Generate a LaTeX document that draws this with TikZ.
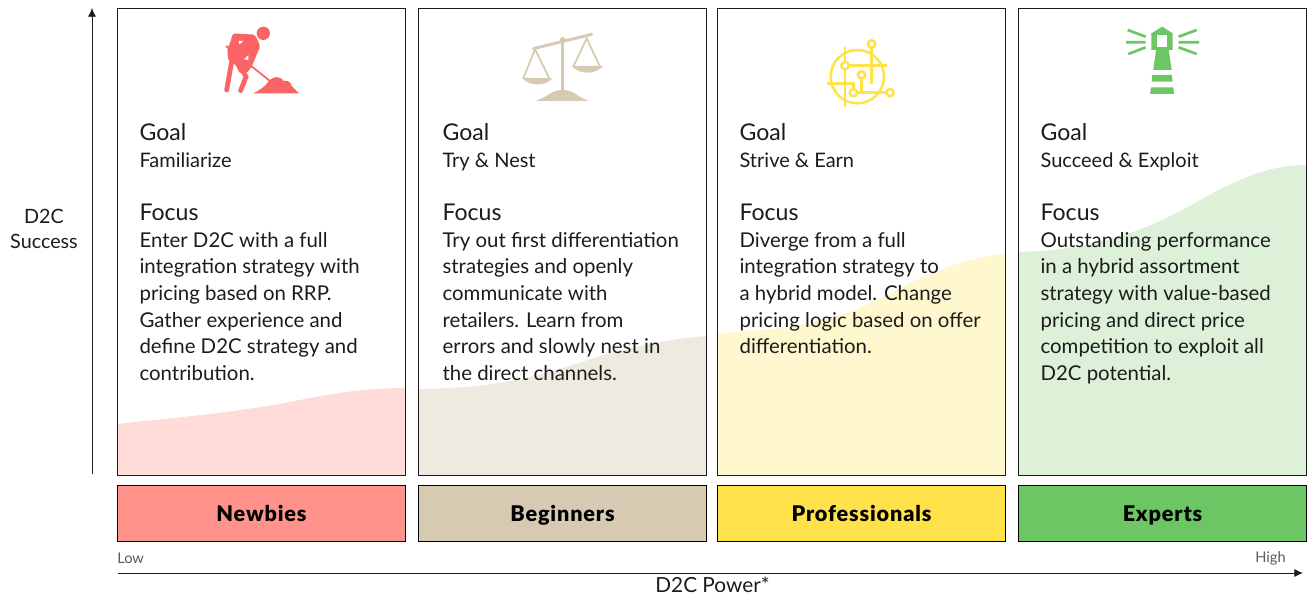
\documentclass[tikz,border=0pt]{standalone}
\usepackage{fontspec}
\setmainfont{Lato}[BoldFont = Lato Black]
\usepackage{tikz}
\usetikzlibrary{arrows.meta}

\definecolor{newbiesicon}{HTML}{FA6464}
\definecolor{newbiesbox}{HTML}{FF928B}
\definecolor{newbiespale}{HTML}{FFDCD8}
\definecolor{beginnersbox}{HTML}{D6CAB3}
\definecolor{beginnerspale}{HTML}{EEEAE0}
\definecolor{prosbox}{HTML}{FFE14A}
\definecolor{prospale}{HTML}{FFF8CE}
\definecolor{expertsbox}{HTML}{6CC664}
\definecolor{expertspale}{HTML}{DDF1D9}
\definecolor{inkdark}{HTML}{1C1C1C}

\tikzset{
	panel/.style = {draw = inkdark, line width = 0.75pt},
	tier/.style = {draw = black, line width = 0.75pt, anchor = north west, minimum width = 216pt, minimum height = 42pt, inner sep = 0pt, text height = 11.5pt, text depth = 0.2pt, font = \fontsize{16.2}{18}\selectfont\bfseries\addfontfeature{LetterSpace = 4}},
	heading/.style = {anchor = base west, inner sep = 0pt, text = inkdark, font = \fontsize{17.3}{20}\selectfont},
	body/.style = {anchor = north west, inner sep = 0pt, align = left, text = inkdark, font = \fontsize{15.3}{20}\selectfont},
	goalline/.style = {anchor = base west, inner sep = 0pt, text = inkdark, font = \fontsize{15}{20}\selectfont},
	axislabel/.style = {inner sep = 0pt, text = inkdark, font = \fontsize{14.8}{19}\selectfont},
	endlabel/.style = {inner sep = 0pt, text = black!65, font = \fontsize{11}{13}\selectfont},
	axis/.style = {-{Latex[length = 6.5pt, width = 6pt]}, line width = 0.6pt, draw = inkdark}
}

\begin{document}
\begin{tikzpicture}[x = 0.75pt, y = -0.75pt]

	\useasboundingbox (0, 0) rectangle (1309, 595);

	% Curves under the text

	\fill [newbiespale] (117, 475) -- (117, 424) .. controls (190, 416) and (240, 412) .. (300, 400) .. controls (340, 392) and (370, 388) .. (405, 388) -- (405, 475) -- cycle;
	\fill [beginnerspale] (418, 475) -- (418, 389) .. controls (500, 388) and (540, 376) .. (600, 356) .. controls (640, 345) and (670, 339) .. (706, 336) -- (706, 475) -- cycle;
	\fill [prospale] (717, 475) -- (717, 333) .. controls (790, 330) and (840, 322) .. (900, 288) .. controls (935, 270) and (970, 257) .. (1005, 254) -- (1005, 475) -- cycle;
	\fill [expertspale] (1018, 475) -- (1018, 252) .. controls (1090, 250) and (1140, 235) .. (1200, 200) .. controls (1240, 178) and (1270, 165) .. (1306, 165) -- (1306, 475) -- cycle;

	% Panels

	\foreach \x in {117, 418, 717, 1018}
		\draw [panel] (\x, 9) rectangle (\x + 288, 475);

	% Tier boxes

	\node [tier, fill = newbiesbox] (newbies) at (117, 485) {Newbies};
	\node [tier, fill = beginnersbox] (beginners) at (418, 485) {Beginners};
	\node [tier, fill = prosbox] (professionals) at (717, 485) {Professionals};
	\node [tier, fill = expertsbox] (experts) at (1018, 485) {Experts};

	% Goals and focus

	\foreach \x/\name/\goal in {139.3/a/Familiarize, 442.3/b/Try \& Nest, 739.3/c/Strive \& Earn, 1040.3/d/Succeed \& Exploit} {
		\node [heading] (goal-\name) at (\x, 141) {Goal};
		\node [goalline] (goaltext-\name) at (\x, 167.5) {\goal};
		\node [heading] (focus-\name) at (\x, 221) {Focus};
	}

	\node [body] (text-a) at (139.3, 232) {Enter D2C with a full\\integration strategy with\\pricing based on RRP.\\Gather experience and\\define D2C strategy and\\contribution.};
	\node [body] (text-b) at (442.3, 232) {Try out first differentiation\\strategies and openly\\communicate with\\retailers. Learn from\\errors and slowly nest in\\the direct channels.};
	\node [body] (text-c) at (739.3, 232) {Diverge from a full\\integration strategy to\\a hybrid model. Change\\pricing logic based on offer\\differentiation.};
	\node [body] (text-d) at (1040.3, 232) {Outstanding performance\\in a hybrid assortment\\strategy with value-based\\pricing and direct price\\competition to exploit all\\D2C potential.};

	% Worker

	\begin{scope}[shift = {(200, 10)}, scale = 1/3, newbiesicon]
		\fill (190, 70) circle (20);
		\fill [rounded corners = 2pt] (98, 70) -- (165, 74) -- (181, 108) -- (155, 170) -- (140, 190) -- (118, 190) -- (108, 165) -- (84, 150) -- (82, 115) -- (92, 95) -- cycle;
		\draw [line width = 3.6pt, line cap = round] (96, 150) -- (80, 240);
		\draw [line width = 3.6pt, line cap = round] (122, 170) -- (138, 200) -- (122, 242);
		\draw [line width = 1.3pt] (78, 108) -- (95, 122) (150, 165) -- (210, 213);
		\fill (160, 250) .. controls (180, 240) and (195, 230) .. (205, 215) .. controls (220, 197) and (240, 197) .. (252, 213) .. controls (262, 210) and (272, 215) .. (275, 228) -- (297, 250) -- cycle;
		\fill [white] (118, 103) -- (130, 93) -- (116, 93) -- cycle (132, 148) -- (145, 135) -- (145, 150) -- cycle;
	\end{scope}

	% Scales

	\begin{scope}[shift = {(200, 10)}, scale = 1/3, beginnersbox]
		\draw [line width = 2.2pt, line cap = round] (1000, 116) -- (1175, 73);
		\draw [line width = 2.6pt] (1088, 90) -- (1088, 245);
		\fill (1088, 90) circle (9);
		\fill (1005, 273) .. controls (1045, 262) and (1050, 240) .. (1088, 240) .. controls (1125, 240) and (1130, 262) .. (1168, 273) -- cycle;
		\draw [line width = 1.3pt] (970, 205) -- (1005, 118) -- (1048, 205);
		\draw [line width = 1.3pt] (1120, 170) -- (1160, 85) -- (1200, 170);
		\fill (965, 203) .. controls (990, 230) and (1035, 230) .. (1058, 205) -- cycle;
		\fill (1115, 168) .. controls (1140, 195) and (1185, 195) .. (1210, 168) -- cycle;
	\end{scope}

	% Circuit globe

	\begin{scope}[shift = {(800, 10)}, scale = 1/3, line width = 1.9pt]
		\draw [prosbox] (172, 200) circle (80);
		\draw [prosbox] (135, 112) -- (135, 290);
		\draw [prosbox] (135, 167) -- (260, 167);
		\draw [prosbox] (82, 220) -- (160, 220) -- (160, 248) -- (258, 248);
		\draw [prosbox] (215, 114) -- (215, 222);
		\draw [prosbox] (185, 206) -- (185, 245);
		\foreach \cx/\cy in {215/102, 135/167, 185/195, 160/248, 270/248}
			\filldraw [draw = prosbox, fill = white] (\cx, \cy) circle (11);
	\end{scope}

	% Lighthouse

	\begin{scope}[shift = {(800, 10)}, scale = 1/3, expertsbox]
		\fill (1054, 70) -- (1087, 50) -- (1118, 70) -- (1118, 120) -- (1106, 120) -- (1115, 180) -- (1060, 180) -- (1068, 120) -- (1054, 120) -- cycle;
		\fill [white] (1072, 76) rectangle (1101, 110);
		\fill (1057, 195) -- (1115, 195) -- (1118, 215) -- (1055, 215) -- cycle;
		\fill (1053, 232) -- (1120, 232) -- (1122, 252) -- (1050, 252) -- cycle;
		\draw [line width = 2pt] (983, 60) -- (1037, 80) (978, 97) -- (1037, 97) (985, 132) -- (1037, 112);
		\draw [line width = 2pt] (1190, 60) -- (1136, 80) (1197, 97) -- (1136, 97) (1190, 132) -- (1136, 112);
	\end{scope}

	% Axes

	\coordinate (y-start) at (92, 474);
	\coordinate (y-end) at (92, 8);
	\coordinate (x-start) at (118, 573);
	\coordinate (x-end) at (1303, 573);

	\draw [axis] (y-start) -- (y-end);
	\draw [axis] (x-start) -- (x-end);

	\node [axislabel, align = center] (success) at (44, 229) {D2C\\Success};
	\node [axislabel, font = \fontsize{15.6}{19}\selectfont] (power) at (712.5, 585) {D2C Power*};
	\node [endlabel, anchor = west] (low) at (117, 558) {Low};
	\node [endlabel, anchor = east] (high) at (1286, 558) {High};

\end{tikzpicture}
\end{document}
